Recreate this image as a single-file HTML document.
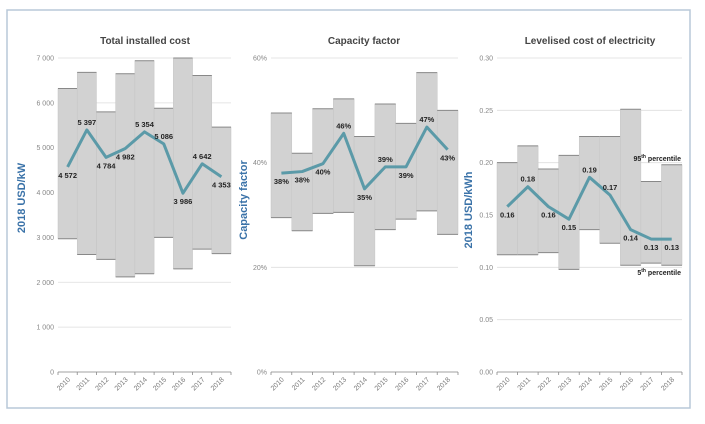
<!DOCTYPE html>
<html><head><meta charset="utf-8"><style>
html,body{margin:0;padding:0;background:#fff;}
svg{display:block;font-family:"Liberation Sans",sans-serif;}
</style></head><body>
<svg id="c" width="705" height="424" viewBox="0 0 705 424" xmlns="http://www.w3.org/2000/svg">
<rect x="7" y="10" width="683" height="398" fill="#fff" stroke="#b8c8d8" stroke-width="1.5"/>
</svg>
<script>
const years=["2010","2011","2012","2013","2014","2015","2016","2017","2018"];
const costHigh=[6320,6680,5800,6650,6940,5880,7000,6610,5460];
const costLow=[2970,2620,2510,2120,2190,3000,2300,2740,2640];
const costAvg=[4572,5397,4784,4982,5354,5086,3986,4642,4353];
const costLabels=["4 572","5 397","4 784","4 982","5 354","5 086","3 986","4 642","4 353"];
const costTicks=[0,1000,2000,3000,4000,5000,6000,7000];
const costTickLabels=["0","1 000","2 000","3 000","4 000","5 000","6 000","7 000"];
const costLabelPos=[1,-1,1,1,-1,-1,1,-1,1];
const cfHigh=[49.5,41.8,50.3,52.2,45,51.2,47.5,57.2,50];
const cfLow=[29.5,27,30.3,30.5,20.3,27.2,29.2,30.8,26.3];
const cfAvg=[38,38.3,39.8,45.6,35,39.2,39.2,46.8,42.5];
const cfLabels=["38%","38%","40%","46%","35%","39%","39%","47%","43%"];
const cfTicks=[0,20,40,60];
const cfTickLabels=["0%","20%","40%","60%"];
const cfLabelPos=[1,1,1,-1,1,-1,1,-1,1];
const lcHigh=[0.200,0.216,0.194,0.207,0.225,0.225,0.251,0.182,0.198];
const lcLow=[0.112,0.112,0.114,0.098,0.136,0.123,0.102,0.104,0.102];
const lcAvg=[0.158,0.177,0.158,0.146,0.186,0.169,0.136,0.127,0.127];
const lcLabels=["0.16","0.18","0.16","0.15","0.19","0.17","0.14","0.13","0.13"];
const lcTicks=[0,0.05,0.10,0.15,0.20,0.25,0.30];
const lcTickLabels=["0.00","0.05","0.10","0.15","0.20","0.25","0.30"];
const lcLabelPos=[1,-1,1,1,-1,-1,1,1,1];

const svg=document.getElementById('c');
const NS="http://www.w3.org/2000/svg";
function mk(tag,attrs,parent){const e=document.createElementNS(NS,tag);for(const k in attrs)e.setAttribute(k,attrs[k]);(parent||svg).appendChild(e);return e;}

function panel(p){
  const g=mk('g',{});
  
  
  const x0=p.x0,x1=p.x1,yTop=58,yBot=372;
  const bw=(x1-x0)/years.length;
  const ys=v=>yBot-(v/p.max)*(yBot-yTop);
  const xc=i=>x0+bw*(i+0.5);
  // title
  const t=mk('text',{x:p.tx,y:44,'text-anchor':'middle','font-size':'10','font-weight':'bold',fill:'#444'},g);
  t.textContent=p.title;
  
  
  // grid + ticks
  p.ticks.forEach((v,i)=>{
    const y=ys(v);
    const l=mk('line',{x1:x0,x2:x1,y1:y,y2:y,stroke:'#dedede','stroke-width':'0.8'},g);
    
    
    const tl=mk('text',{x:x0-4,y:y+2.5,'text-anchor':'end','font-size':'7',fill:'#888'},g);
    tl.textContent=p.tickLabels[i];
    
    
  });
  // bars
  years.forEach((yr,i)=>{
    const bx=x0+bw*i;
    const r=mk('rect',{x:bx,y:ys(p.high[i]),width:bw,height:ys(p.low[i])-ys(p.high[i]),fill:'#d2d2d2',stroke:'#c4c4c4','stroke-width':'0.5'},g);
    
    
    const a=mk('line',{x1:bx,x2:bx+bw,y1:ys(p.high[i]),y2:ys(p.high[i]),stroke:'#888','stroke-width':'1'},g);
    
    
    const b=mk('line',{x1:bx,x2:bx+bw,y1:ys(p.low[i]),y2:ys(p.low[i]),stroke:'#888','stroke-width':'1'},g);
    
    
  });
  // x axis
  const ax=mk('line',{x1:x0,x2:x1,y1:yBot,y2:yBot,stroke:'#888','stroke-width':'0.8'},g);
  
  
  for(let i=0;i<=years.length;i++){
    const tk=mk('line',{x1:x0+bw*i,x2:x0+bw*i,y1:yBot,y2:yBot+3,stroke:'#888','stroke-width':'0.8'},g);
    
    
  }
  years.forEach((yr,i)=>{
    const x=xc(i)+3,y=yBot+8;
    const tl=mk('text',{x:x,y:y,'text-anchor':'end','font-size':'7',fill:'#777',transform:`rotate(-45 ${x} ${y})`},g);
    tl.textContent=yr;
    
    
  });
  // line
  const pts=p.avg.map((v,i)=>xc(i)+','+ys(v)).join(' ');
  const pl=mk('polyline',{points:pts,fill:'none',stroke:'#5b9aa8','stroke-width':'3','stroke-linejoin':'round'},g);
  
  
  p.avg.forEach((v,i)=>{
    const d=p.labelPos[i];
    const lt=mk('text',{x:xc(i),y:ys(v)+(d>0?11:-5),'text-anchor':'middle','font-size':'7.5','font-weight':'bold',fill:'#222'},g);
    lt.textContent=p.labels[i];
    
    
  });
  // axis title
  const at=mk('text',{x:p.ax,y:p.ay,'text-anchor':'middle','font-size':'11','font-weight':'bold',fill:'#3a72a8',transform:`rotate(-90 ${p.ax} ${p.ay})`},g);
  at.textContent=p.axisTitle;
  
  
  return {ys,x1};
}
panel({name:'total-installed-cost-panel',title:'Total installed cost',tx:145,x0:58,x1:231,max:7000,ticks:costTicks,tickLabels:costTickLabels,high:costHigh,low:costLow,avg:costAvg,labels:costLabels,labelPos:costLabelPos,axisTitle:'2018 USD/kW',ax:25,ay:198});
panel({name:'capacity-factor-panel',title:'Capacity factor',tx:364,x0:271,x1:458,max:60,ticks:cfTicks,tickLabels:cfTickLabels,high:cfHigh,low:cfLow,avg:cfAvg,labels:cfLabels,labelPos:cfLabelPos,axisTitle:'Capacity factor',ax:247,ay:200});
const p3=panel({name:'lcoe-panel',title:'Levelised cost of electricity',tx:590,x0:497,x1:682,max:0.30,ticks:lcTicks,tickLabels:lcTickLabels,high:lcHigh,low:lcLow,avg:lcAvg,labels:lcLabels,labelPos:lcLabelPos,axisTitle:'2018 USD/kWh',ax:472,ay:210});
const a=mk('text',{x:681,y:161,'text-anchor':'end','font-size':'7','font-weight':'bold',fill:'#222'});
a.innerHTML='95<tspan font-size="5" dy="-3">th</tspan><tspan dy="3"> percentile</tspan>';


const b=mk('text',{x:681,y:275,'text-anchor':'end','font-size':'7','font-weight':'bold',fill:'#222'});
b.innerHTML='5<tspan font-size="5" dy="-3">th</tspan><tspan dy="3"> percentile</tspan>';


</script>
</body></html>
